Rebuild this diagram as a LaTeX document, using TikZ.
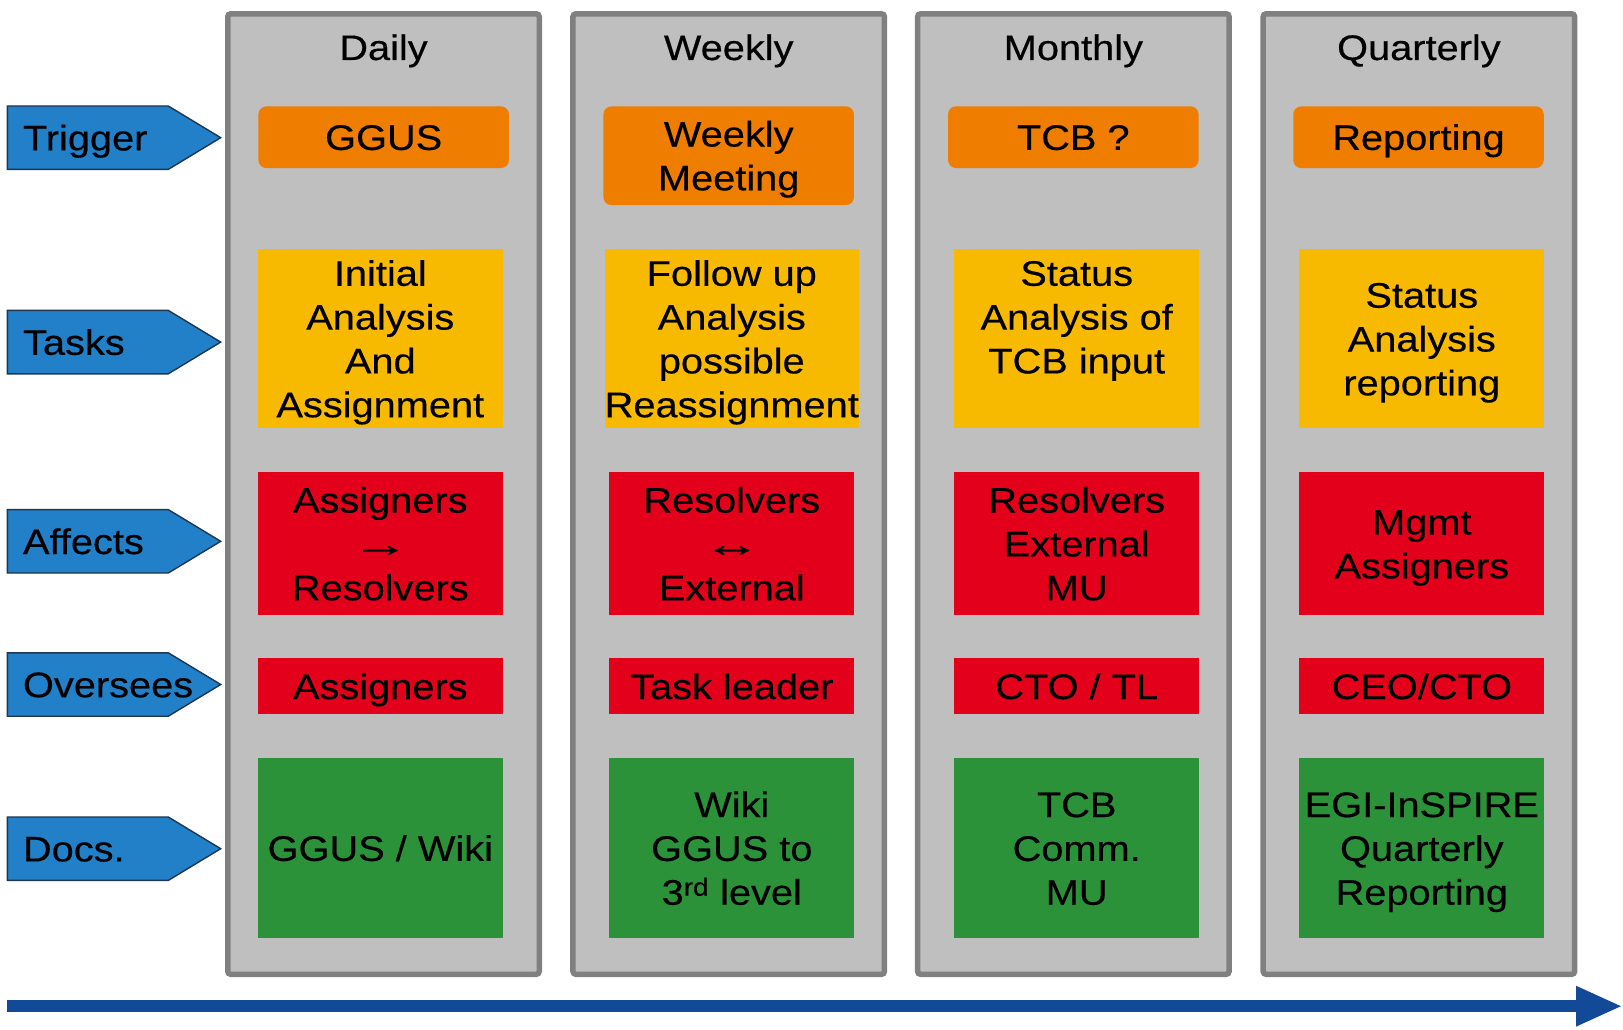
\documentclass[tikz,border=0pt]{standalone}
\usepackage{fontspec}
\setmainfont{Liberation Sans}[FakeStretch=1.12, FakeBold=0.4]
\usetikzlibrary{arrows.meta}
\definecolor{colfill}{HTML}{BFBFBF}
\definecolor{colline}{HTML}{808080}
\definecolor{trigorange}{HTML}{EE7D00}
\definecolor{taskyellow}{HTML}{F8BA00}
\definecolor{rolered}{HTML}{E2001A}
\definecolor{docgreen}{HTML}{2C923A}
\definecolor{sigblue}{HTML}{2180C8}
\definecolor{sigedge}{HTML}{1F3550}
\definecolor{timeblue}{HTML}{134A97}
\newcommand{\wideglyph}[1]{\scalebox{1.45}[1]{#1}}
\begin{document}
\begin{tikzpicture}[x=1pt,y=-1pt,
  every node/.style={font=\fontsize{35.5}{43.8}\selectfont, inner sep=0pt, outer sep=0pt},
  colbox/.style={draw=colline, fill=colfill, line width=5.5pt, rounded corners=3pt,
    minimum width=311.5pt, minimum height=960.5pt},
  head/.style={anchor=base},
  obox/.style={fill=trigorange, rounded corners=8pt, minimum width=250.5pt, align=center},
  cell/.style={minimum width=245pt, align=center},
  ybox/.style={cell, fill=taskyellow, minimum height=179pt},
  rbox/.style={cell, fill=rolered, minimum height=142.7pt},
  sbox/.style={cell, fill=rolered, minimum height=56pt},
  gbox/.style={cell, fill=docgreen, minimum height=179.7pt},
  % multi-line text sits on the baseline of its last line
  n1/.style={text height=25.4pt, text depth=0pt},
  n2/.style={text height=69.2pt, text depth=0pt},
  n3/.style={text height=113pt, text depth=0pt},
  n4/.style={text height=156.8pt, text depth=0pt},
  sig/.style={draw=sigedge, fill=sigblue, line width=1.4pt, line join=miter},
  siglabel/.style={anchor=west, n1},
  timeline/.style={draw=timeblue, line width=12.3pt,
    -{Triangle[length=46.7pt,width=37pt]}}
]
\useasboundingbox (0,0) rectangle (1623,1030);

% row labels on the left
\foreach \i/\cy/\txt in {1/137.7/Trigger, 2/342.1/Tasks, 3/541.3/Affects,
                         4/684.5/Oversees, 5/848.7/Docs.}{
  \draw[sig] (7.3,\cy-31.7) -- (168.3,\cy-31.7) -- (220.7,\cy)
     -- (168.3,\cy+31.7) -- (7.3,\cy+31.7) -- cycle;
  \node[siglabel] (sig\i) at (23,\cy) {\txt};
}

% period columns
\node[colbox] (colD) at (383.5,494.05) {};
\node[colbox] (colW) at (728.7,494.05) {};
\node[colbox] (colM) at (1073.4,494.05) {};
\node[colbox] (colQ) at (1418.9,494.05) {};

\node[head] (hD) at (383.5,60) {Daily};
\node[head] (hW) at (728.7,60) {Weekly};
\node[head] (hM) at (1073.4,60) {Monthly};
\node[head] (hQ) at (1418.9,60) {Quarterly};

% trigger row
\node[obox, n1, minimum height=61.7pt] (trD) at (383.7,137.2) {GGUS};
\node[obox, n2, minimum height=98.7pt] (trW) at (728.7,155.7) {Weekly\\Meeting};
\node[obox, n1, minimum height=61.7pt] (trM) at (1073.3,137.2) {TCB ?};
\node[obox, n1, minimum height=61.7pt] (trQ) at (1418.5,137.2) {Reporting};

% tasks row
\node[ybox, n4] (taD) at (380.3,338.8) {Initial\\Analysis\\And\\Assignment};
\node[ybox, n4] (taW) at (731.8,338.8) {Follow up\\Analysis\\possible\\Reassignment};
\node[ybox, n4] (taM) at (1076.7,338.8) {Status\\Analysis of\\TCB input\\\mbox{}};
\node[ybox, n3] (taQ) at (1421.8,338.8) {Status\\Analysis\\reporting};

% affects row
\node[rbox, n3] (afD) at (380.3,543.7) {Assigners\\\wideglyph{→}\\Resolvers};
\node[rbox, n3] (afW) at (731.8,543.7) {Resolvers\\\wideglyph{↔}\\External};
\node[rbox, n3] (afM) at (1076.7,543.7) {Resolvers\\External\\MU};
\node[rbox, n2] (afQ) at (1421.8,543.7) {Mgmt\\Assigners};

% oversees row
\node[sbox, n1] (ovD) at (380.3,686.3) {Assigners};
\node[sbox, n1] (ovW) at (731.8,686.3) {Task leader};
\node[sbox, n1] (ovM) at (1076.7,686.3) {CTO / TL};
\node[sbox, n1] (ovQ) at (1421.8,686.3) {CEO/CTO};

% docs row
\node[gbox, n1] (doD) at (380.3,848.2) {GGUS / Wiki};
\node[gbox, n3] (doW) at (731.8,848.2) {Wiki\\GGUS to\\3\textsuperscript{rd} level};
\node[gbox, n3] (doM) at (1076.7,848.2) {TCB\\Comm.\\MU};
\node[gbox, n3] (doQ) at (1421.8,848.2) {EGI-InSPIRE\\Quarterly\\Reporting};

% time axis
\coordinate (t0) at (7.3,1006.2);
\coordinate (t1) at (1622.7,1006.2);
\draw[timeline] (t0) -- (t1);
\end{tikzpicture}
\end{document}
